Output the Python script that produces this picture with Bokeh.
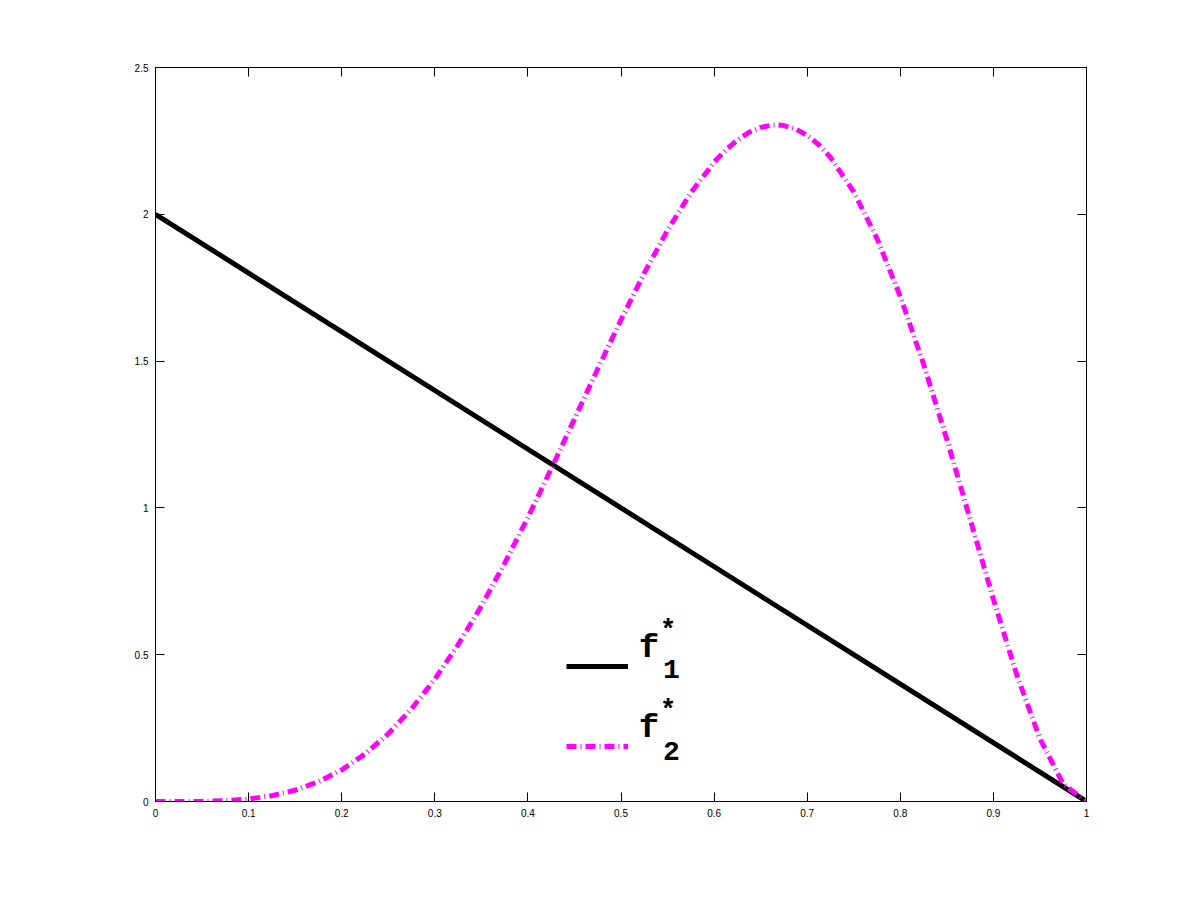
from bokeh.plotting import figure
from bokeh.models import Range1d, LinearAxis, FixedTicker, Legend, LegendItem, Label
from bokeh.embed import file_html
from bokeh.resources import INLINE

# ---- data ----
x1 = [0.0, 0.25, 0.5, 0.75, 1.0]
f1 = [2.0, 1.5, 1.0, 0.5, 0.0]

x2 = [0.0, 0.025, 0.05, 0.075, 0.1, 0.125, 0.15, 0.175, 0.2, 0.225, 0.25, 0.275,
      0.3, 0.325, 0.35, 0.375, 0.4, 0.425, 0.45, 0.475, 0.5, 0.525, 0.55, 0.575,
      0.6, 0.6125, 0.625, 0.6375, 0.65, 0.6625, 0.6667, 0.675, 0.6875, 0.7, 0.7125,
      0.725, 0.75, 0.775, 0.8, 0.825, 0.85, 0.875, 0.9, 0.925, 0.95, 0.975, 1.0]
f2 = [0.0, 0.0, 0.0006, 0.0028, 0.0085, 0.0196, 0.0384, 0.067, 0.1075, 0.1616, 0.2307, 0.3156,
      0.4167, 0.5337, 0.6657, 0.8111, 0.9677, 1.1326, 1.3025, 1.4733, 1.6406, 1.7998, 1.9457, 2.0732,
      2.1773, 2.219, 2.2531, 2.2789, 2.296, 2.304, 2.3045, 2.3023, 2.2908, 2.2689, 2.2367,
      2.1939, 2.0764, 1.9176, 1.7203, 1.4896, 1.2332, 0.9617, 0.6889, 0.4324, 0.2138, 0.0593, 0.0]

x_ticks = [0, 0.1, 0.2, 0.3, 0.4, 0.5, 0.6, 0.7, 0.8, 0.9, 1]
x_tick_labels = ["0", "0.1", "0.2", "0.3", "0.4", "0.5", "0.6", "0.7", "0.8", "0.9", "1"]
y_ticks = [0, 0.5, 1, 1.5, 2, 2.5]
y_tick_labels = ["0", "0.5", "1", "1.5", "2", "2.5"]

p = figure(width=1184, height=885, output_backend="svg", toolbar_location=None,
           x_range=Range1d(0, 1), y_range=Range1d(0, 2.5),
           x_axis_type=None, y_axis_type=None,
           min_border_left=155, min_border_right=98, min_border_top=67, min_border_bottom=84)
p.grid.visible = False
p.outline_line_color = "black"
p.outline_line_width = 1
p.background_fill_color = "white"
p.border_fill_color = "white"

def make_axis(ticks, labels, show_labels):
    ax = LinearAxis(ticker=FixedTicker(ticks=ticks))
    ax.major_label_overrides = {t: l for t, l in zip(ticks, labels)}
    ax.major_tick_in = 9
    ax.major_tick_out = 0
    ax.minor_tick_in = 0
    ax.minor_tick_out = 0
    ax.axis_line_color = "black"
    ax.major_tick_line_color = "black"
    ax.major_label_text_font = "Liberation Sans"
    ax.major_label_text_font_size = "10px"
    ax.major_label_text_color = "black" if show_labels else None
    ax.major_label_standoff = 7
    return ax

p.add_layout(make_axis(x_ticks, x_tick_labels, True), "below")
p.add_layout(make_axis(y_ticks, y_tick_labels, True), "left")
p.add_layout(make_axis(x_ticks, x_tick_labels, False), "above")
p.add_layout(make_axis(y_ticks, y_tick_labels, False), "right")

r1 = p.line(x1, f1, line_color="black", line_width=5)
r2 = p.line(x2, f2, line_color="#ff00ff", line_width=5, line_dash="10 4 1 4")

legend = Legend(items=[LegendItem(label=" ", renderers=[r1]),
                       LegendItem(label=" ", renderers=[r2])],
                location=(411, 35), orientation="vertical",
                glyph_width=62, glyph_height=40, label_height=40, label_width=1,
                spacing=40, padding=0, margin=0, label_standoff=0,
                border_line_color=None, background_fill_alpha=0)
p.add_layout(legend, "center")

mono = "Liberation Mono"
for name_y, sub, star_y, sub_y in [(0.524, "1", 0.58, 0.45), (0.25, "2", 0.308, 0.172)]:
    p.add_layout(Label(x=0.519, y=name_y, text="f", text_font=mono, text_font_style="bold",
                       text_font_size="34px", text_color="black", text_baseline="alphabetic"))
    p.add_layout(Label(x=0.542, y=star_y, text="*", text_font=mono, text_font_style="bold",
                       text_font_size="27px", text_color="black", text_baseline="alphabetic"))
    p.add_layout(Label(x=0.545, y=sub_y, text=sub, text_font=mono, text_font_style="bold",
                       text_font_size="28px", text_color="black", text_baseline="alphabetic"))

open("out.html", "w").write(file_html(p, INLINE))
